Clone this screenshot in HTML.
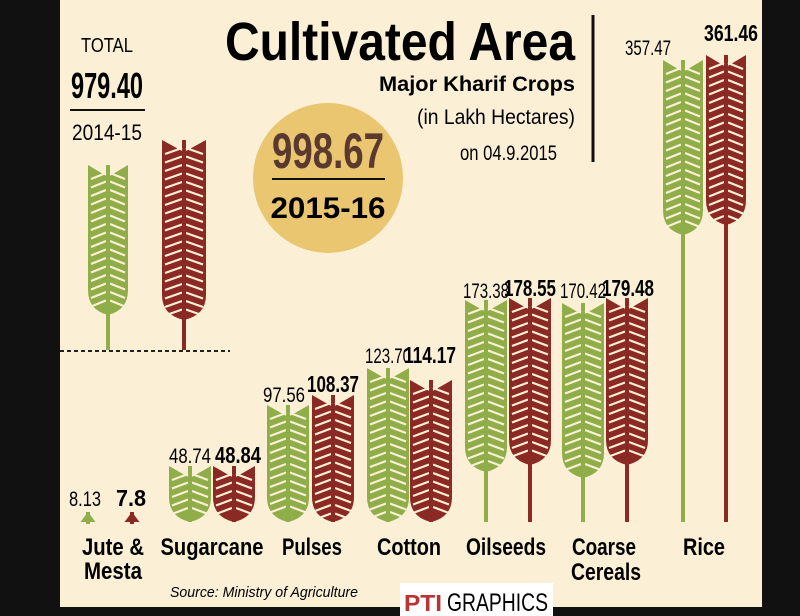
<!DOCTYPE html>
<html><head><meta charset="utf-8"><style>
body{margin:0;width:800px;height:616px;overflow:hidden;background:#000;}
svg{display:block}
text{font-family:"Liberation Sans Narrow","Liberation Sans",sans-serif;}
</style></head><body>
<svg id="s" width="800" height="616" viewBox="0 0 800 616">
<rect x="0" y="0" width="800" height="616" fill="#111"/>
<rect x="60" y="0" width="702" height="607" fill="#fbefd6"/>
<rect x="400" y="583" width="153" height="33" fill="#fff"/>
<circle cx="328" cy="178" r="75" fill="#e9c66f"/>
<line x1="593" y1="15" x2="593" y2="162" stroke="#111" stroke-width="3"/>
<line x1="60" y1="351" x2="230" y2="351" stroke="#222" stroke-width="2" stroke-dasharray="4,3"/>
<line x1="70" y1="110" x2="145" y2="110" stroke="#111" stroke-width="2"/>
<line x1="272" y1="179" x2="385" y2="179" stroke="#111" stroke-width="2"/>
<g id="w"></g>
<text x="400" y="60" font-size="54" font-weight="bold" text-anchor="middle" textLength="350" lengthAdjust="spacingAndGlyphs">Cultivated Area</text>
<text x="575" y="91" font-size="21" font-weight="bold" text-anchor="end" textLength="196" lengthAdjust="spacingAndGlyphs">Major Kharif Crops</text>
<text x="575" y="124" font-size="21" text-anchor="end" textLength="158" lengthAdjust="spacingAndGlyphs">(in Lakh Hectares)</text>
<text x="557" y="160" font-size="21" text-anchor="end" textLength="97" lengthAdjust="spacingAndGlyphs">on 04.9.2015</text>
<text x="107" y="52" font-size="20" text-anchor="middle" textLength="52" lengthAdjust="spacingAndGlyphs">TOTAL</text>
<text x="107" y="98" font-size="36" font-weight="bold" text-anchor="middle" textLength="72" lengthAdjust="spacingAndGlyphs">979.40</text>
<text x="107" y="140" font-size="22" text-anchor="middle" textLength="70" lengthAdjust="spacingAndGlyphs">2014-15</text>
<text x="328" y="168" font-size="50" font-weight="bold" fill="#5a3a2e" text-anchor="middle" textLength="112" lengthAdjust="spacingAndGlyphs">998.67</text>
<text x="328" y="218" font-size="30" font-weight="bold" text-anchor="middle" textLength="115" lengthAdjust="spacingAndGlyphs">2015-16</text>
<g font-size="21" text-anchor="middle">
<text x="85" y="506" textLength="32" lengthAdjust="spacingAndGlyphs">8.13</text>
<text x="190" y="463" textLength="42" lengthAdjust="spacingAndGlyphs">48.74</text>
<text x="284" y="402" textLength="42" lengthAdjust="spacingAndGlyphs">97.56</text>
<text x="388" y="363" textLength="46" lengthAdjust="spacingAndGlyphs">123.70</text>
<text x="486" y="298" textLength="46" lengthAdjust="spacingAndGlyphs">173.38</text>
<text x="583" y="298" textLength="46" lengthAdjust="spacingAndGlyphs">170.42</text>
<text x="648" y="55" textLength="46" lengthAdjust="spacingAndGlyphs">357.47</text>
</g>
<g font-size="23" font-weight="bold" text-anchor="middle">
<text x="131" y="506" textLength="30" lengthAdjust="spacingAndGlyphs">7.8</text>
<text x="238" y="463" textLength="46" lengthAdjust="spacingAndGlyphs">48.84</text>
<text x="333" y="392" textLength="52" lengthAdjust="spacingAndGlyphs">108.37</text>
<text x="430" y="363" textLength="52" lengthAdjust="spacingAndGlyphs">114.17</text>
<text x="530" y="296" textLength="52" lengthAdjust="spacingAndGlyphs">178.55</text>
<text x="628" y="296" textLength="52" lengthAdjust="spacingAndGlyphs">179.48</text>
<text x="731" y="41" textLength="54" lengthAdjust="spacingAndGlyphs">361.46</text>
</g>
<g font-size="24" font-weight="bold" text-anchor="middle">
<text x="113" y="555" textLength="62" lengthAdjust="spacingAndGlyphs">Jute &amp;</text>
<text x="113" y="579" textLength="58" lengthAdjust="spacingAndGlyphs">Mesta</text>
<text x="212" y="555" textLength="103" lengthAdjust="spacingAndGlyphs">Sugarcane</text>
<text x="312" y="555" textLength="60" lengthAdjust="spacingAndGlyphs">Pulses</text>
<text x="409" y="555" textLength="64" lengthAdjust="spacingAndGlyphs">Cotton</text>
<text x="506" y="555" textLength="80" lengthAdjust="spacingAndGlyphs">Oilseeds</text>
<text x="604" y="555" textLength="64" lengthAdjust="spacingAndGlyphs">Coarse</text>
<text x="606" y="580" textLength="70" lengthAdjust="spacingAndGlyphs">Cereals</text>
<text x="704" y="555" textLength="42" lengthAdjust="spacingAndGlyphs">Rice</text>
</g>
<text x="264" y="597" font-size="15" font-style="italic" text-anchor="middle" textLength="188" lengthAdjust="spacingAndGlyphs">Source: Ministry of Agriculture</text>
<text x="404" y="611" font-size="23" font-weight="bold" fill="#b33" textLength="38" lengthAdjust="spacingAndGlyphs">PTI</text>
<text x="447" y="611" font-size="25" textLength="101" lengthAdjust="spacingAndGlyphs">GRAPHICS</text>
</svg>
<script>
var G="#8fae4a",R="#8b2a24",C="#fbefd6";
var ears=[
[108,165,315,350,G,40],[184,140,320,350,R,44],
[88,512,522,524,G,30],[132,512,522,524,R,30],
[190,466,522,522,G,42],[234,466,522,522,R,42],
[288,405,522,522,G,42],[333,395,522,522,R,42],
[388,368,522,522,G,42],[431,380,522,522,R,42],
[486,300,472,522,G,42],[530,298,465,522,R,42],
[583,303,478,522,G,42],[627,298,465,522,R,42],
[683,60,235,522,G,40],[726,55,225,522,R,40]];
var h="";
ears.forEach(function(e){var cx=e[0],t=e[1],b=e[2],sb=e[3],c=e[4],w=e[5]/2;
h+='<line x1="'+cx+'" y1="'+t+'" x2="'+cx+'" y2="'+sb+'" stroke="'+c+'" stroke-width="4"/>';
if(b-t<15){h+='<path d="M'+(cx-w/2)+' '+b+'L'+cx+' '+t+'L'+(cx+w/2)+' '+b+'Z" fill="'+c+'"/>';return;}
h+='<path d="M'+cx+' '+(t+12)+'L'+(cx-w)+' '+t+'L'+(cx-w)+' '+(b-25)+'Q'+(cx-w)+' '+(b-5)+' '+cx+' '+b+'Q'+(cx+w)+' '+(b-5)+' '+(cx+w)+' '+(b-25)+'L'+(cx+w)+' '+t+'Z" fill="'+c+'"/>';
for(var y=t+8;y<b-8;y+=8.5){h+='<path d="M'+(cx-w+3)+' '+(y+6)+'L'+(cx-2)+' '+y+'M'+(cx+2)+' '+y+'L'+(cx+w-3)+' '+(y+6)+'" stroke="'+C+'" stroke-width="2.2" fill="none"/>';}
h+='<line x1="'+cx+'" y1="'+(t+12)+'" x2="'+cx+'" y2="'+b+'" stroke="'+c+'" stroke-width="4"/>';
});
document.getElementById("w").innerHTML=h;
</script>
</body></html>
